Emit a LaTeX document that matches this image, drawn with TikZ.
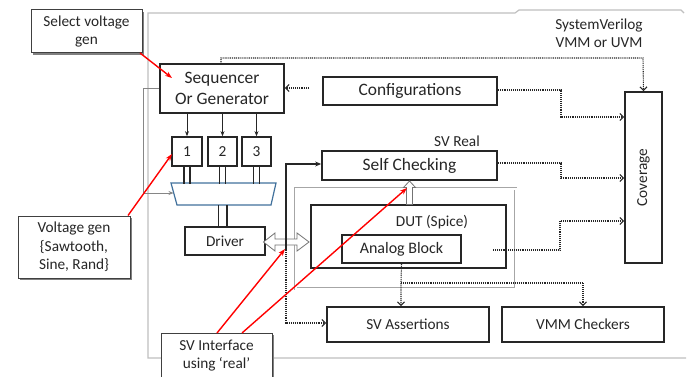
\documentclass[tikz,border=0pt]{standalone}
\usepackage{fontspec}
\setmainfont{Carlito}
\usetikzlibrary{arrows.meta,shadows,calc}
\definecolor{txt}{HTML}{262626}
\definecolor{muxblue}{HTML}{41719C}
\definecolor{framegray}{HTML}{BFBFBF}
\newcommand\bigtxt{\fontsize{17.4}{21}\selectfont}
\newcommand\midtxt{\fontsize{16}{19}\selectfont}
\newcommand\smtxt{\fontsize{15.3}{18.5}\selectfont}
\begin{document}
\begin{tikzpicture}[x=1pt,y=-1pt,
  box/.style={draw=black!85, line width=1.7pt, fill=white, inner sep=0pt, text=txt, align=center},
  callout/.style={draw=black!75, line width=1pt, fill=white, inner sep=0pt, text=txt, align=center,
     drop shadow={shadow xshift=2pt, shadow yshift=-2pt, fill=black!50, opacity=1}},
  lbl/.style={inner sep=0pt, text=txt, align=center},
  dotline/.style={line width=1.1pt, dash pattern=on 1pt off 0.9pt, black!85},
  dotarrow/.style={dotline, -{Straight Barb[length=3.5pt,width=7pt]}},
  redarrow/.style={red, line width=1.4pt, -{Stealth[length=7pt,width=5pt]}},
  thinarrow/.style={black!85, line width=0.8pt, -{Stealth[length=5pt,width=4pt]}},
  hollow/.style={draw=black!55, line width=0.8pt, fill=white},
  twin/.style={black!85, line width=1.5pt}
]
\useasboundingbox (0,0) rectangle (698,377);

% outer SystemVerilog frame
\draw[framegray, line width=1.2pt] (686,358) -- (148,358) -- (148,13) -- (515,13) -- (519,10) -- (681,10) -- (684,13);
\node[lbl, font=\smtxt] (sv) at (599,33) {SystemVerilog\\VMM or UVM};

% gray double frame around DUT
\draw[black!35, line width=0.8pt, double=white, double distance=2pt] (295.5,188.5) rectangle (515.5,288.5);

% boxes
\node[box, minimum width=124pt, minimum height=49pt, font=\bigtxt] (seq) at (222,88.5) {Sequencer\\Or Generator};
\node[box, minimum width=174pt, minimum height=28pt, font=\bigtxt] (cfg) at (410,91) {Configurations};
\node[box, minimum width=175pt, minimum height=29pt, font=\bigtxt] (sc) at (409.5,165.5) {Self Checking};
\node[lbl, font=\smtxt] (svreal) at (457,141) {SV Real};
\node[box, minimum width=37pt, minimum height=171pt] (cov) at (643.5,177.5) {};
\node[lbl, font=\smtxt, rotate=90] (covlbl) at (cov.center) {Coverage};
\node[box, minimum width=195pt, minimum height=63pt] (dut) at (408.5,236.5) {};
\node[lbl, font=\smtxt] (dutlbl) at (432,222) {DUT (Spice)};
\node[box, minimum width=119pt, minimum height=28pt, font=\midtxt] (ab) at (401.5,249) {Analog Block};
\node[box, minimum width=162pt, minimum height=35pt, font=\smtxt] (sva) at (408,324.5) {SV Assertions};
\node[box, minimum width=162pt, minimum height=35pt, font=\smtxt] (vmm) at (583,324.5) {VMM Checkers};
\node[box, minimum width=30pt, minimum height=29pt, font=\smtxt] (b1) at (187,151.5) {1};
\node[box, minimum width=29pt, minimum height=29pt, font=\smtxt] (b2) at (222.5,151.5) {2};
\node[box, minimum width=29pt, minimum height=29pt, font=\smtxt] (b3) at (256.5,151.5) {3};
\node[box, minimum width=80pt, minimum height=28pt, font=\smtxt] (drv) at (225,241) {Driver};

% mux
\draw[muxblue, line width=1.2pt, fill=white] (171,183) -- (276,183) -- (271,205) -- (177,205) -- cycle;
\coordinate (muxin) at (173.5,193);
\coordinate (muxl) at (218.5,205);
\coordinate (muxr) at (227,205);

% callouts
\node[callout, minimum width=111pt, minimum height=43pt, font=\smtxt] (sel) at (86.5,31.5) {Select voltage\\gen};
\node[callout, minimum width=112pt, minimum height=62pt, font=\smtxt] (vg) at (74,247) {Voltage gen\\\{Sawtooth,\\Sine, Rand\}};
\node[callout, minimum width=111pt, minimum height=50pt, font=\smtxt] (svi) at (216.5,358) {};
\node[lbl, font=\smtxt] (svilbl) at (216.5,355.5) {SV Interface\\using ‘real’};

% sequencer to number boxes
\foreach \b in {b1,b2,b3} \draw[thinarrow] (\b.north |- seq.south) -- (\b.north);

% twin lines boxes -> mux -> driver
\foreach \b in {b1,b2,b3} {
  \draw[twin] ([xshift=-3pt]\b.south) -- ++(0,17);
  \draw[twin] ([xshift=3pt]\b.south) -- ++(0,17);
}
\draw[twin] (muxl) -- (muxl |- drv.north);
\draw[twin] (muxr) -- (muxr |- drv.north);

% select line from sequencer to mux
\draw[framegray!70!black, line width=0.9pt, -{Stealth[length=5pt,width=4pt]}] ([yshift=0.5pt]seq.west) -- (143,88) -- (143,193) -- (muxin);

% hollow arrows
\draw[hollow] (263.5,242) -- (275,233) -- (275,239) -- (297,239) -- (297,233) -- (309,242) -- (297,251) -- (297,245) -- (275,245) -- (275,251) -- cycle;
\draw[hollow] (409.5,181) -- (415.5,187.5) -- (412.5,187.5) -- (412.5,204.5) -- (406.5,204.5) -- (406.5,187.5) -- (403.5,187.5) -- cycle;

% black interface line to self checking
\coordinate (ifc) at (286,250);
\coordinate (ifctop) at (286,164);
\coordinate (ifcbot) at (286,323);
\draw[black!85, line width=1.6pt, -{Stealth[length=6pt,width=5pt]}] (ifc) -- (ifctop) -- (ifctop -| sc.west);

% dotted connections
\draw[dotarrow] (ifc) -- (ifcbot) -- (ifcbot -| sva.west);
\draw[dotarrow] (221,64) -- (221,58) -- (643,58) -- (cov.north);
\draw[dotarrow] ([xshift=-13pt,yshift=3pt]cfg.west) -- ([yshift=3pt]cfg.west -| seq.east);
\coordinate (c1) at (561,117);
\coordinate (c2) at (561,178);
\coordinate (c3) at (560,221);
\draw[dotarrow] ([yshift=1pt]cfg.east) -- (561,90) -- (c1) -- (c1 -| cov.west);
\draw[dotarrow] ([yshift=2.5pt]sc.east) -- (561,163) -- (c2) -- (c2 -| cov.west);
\draw[dotarrow] (493,250) -- (560,250) -- (c3) -- (c3 -| cov.west);
\coordinate (br) at (401,283);
\draw[dotarrow] (ab.south) -- (br) -- (br |- sva.north);
\draw[dotarrow] (br) -- (br -| vmm.north) -- (vmm.north);

% red callout arrows
\draw[redarrow] (140,53) -- (172,78);
\draw[redarrow] (128,215.5) -- (172,154);
\draw[redarrow] (217,333) -- (285,249);
\draw[redarrow] (242,333) -- (407,188);
\end{tikzpicture}
\end{document}
